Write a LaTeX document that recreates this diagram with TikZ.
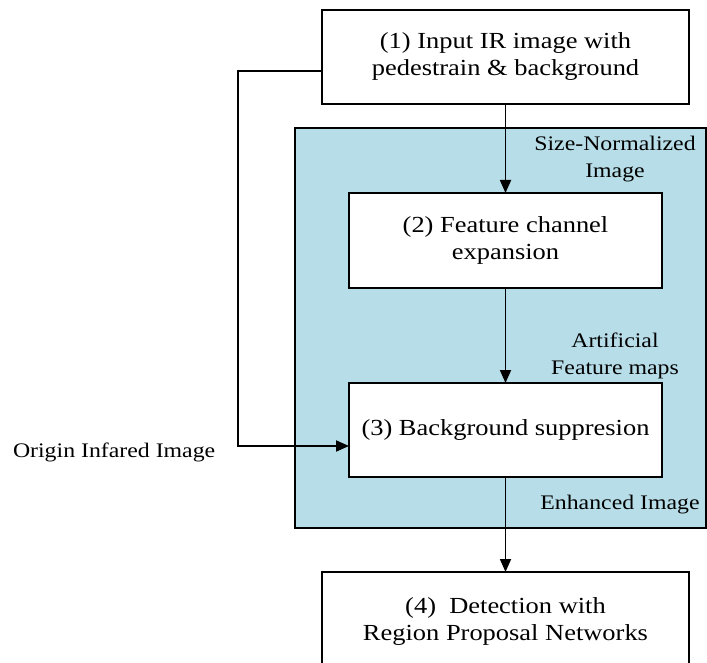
\documentclass[tikz,border=0pt]{standalone}
\usepackage{fontspec}
\setmainfont{Liberation Serif}[FakeStretch=1.15]
\usetikzlibrary{arrows.meta}
\definecolor{panelblue}{HTML}{B7DDE8}
\begin{document}
\begin{tikzpicture}[x=1pt,y=-1pt,
  every node/.style={inner sep=0pt, outer sep=0pt},
  stepbox/.style={draw=black, line width=1.8pt, fill=white, align=center,
    font=\fontsize{23}{27}\selectfont},
  note/.style={align=center, font=\fontsize{20.7}{27}\selectfont},
  link/.style={line width=1.8pt, -{Triangle[length=13pt,width=11pt]}}]
\useasboundingbox (0,0) rectangle (707,663);
\clip (0,0) rectangle (707,663);
% shaded processing stage
\draw[line width=1.8pt, fill=panelblue] (295,128) rectangle (706,528);
% processing steps
\node[stepbox, minimum width=367pt, minimum height=94pt] (s1) at (505.5,57)
  {(1) Input IR image with\\pedestrain \& background};
\node[stepbox, minimum width=313pt, minimum height=95pt] (s2) at (505.5,240.5)
  {(2) Feature channel\\expansion};
\node[stepbox, minimum width=313pt, minimum height=94pt] (s3) at (505.5,430)
  {(3) Background suppresion};
\node[stepbox, minimum width=367pt, minimum height=99pt] (s4) at (505.5,621.5)
  {(4)\ \ Detection with\\Region Proposal Networks};
% labels
\node[note] (lsize) at (615,159) {Size-Normalized\\Image};
\node[note] (lart) at (615,356) {Artificial\\Feature maps};
\node[note] (lenh) at (620,505) {Enhanced Image};
\node[note, anchor=west] (lorig) at (13,452) {Origin Infared Image};
% connectors
\coordinate (c1) at (238,71);
\coordinate (c2) at (238,446);
\draw[link] (s1.south) -- (s2.north);
\draw[link] (s2.south) -- (s3.north);
\draw[link] (s3.south) -- (s4.north);
\draw[link] (s1.west |- c1) -- (c1) -- (c2) -- (s3.west |- c2);
\end{tikzpicture}
\end{document}
